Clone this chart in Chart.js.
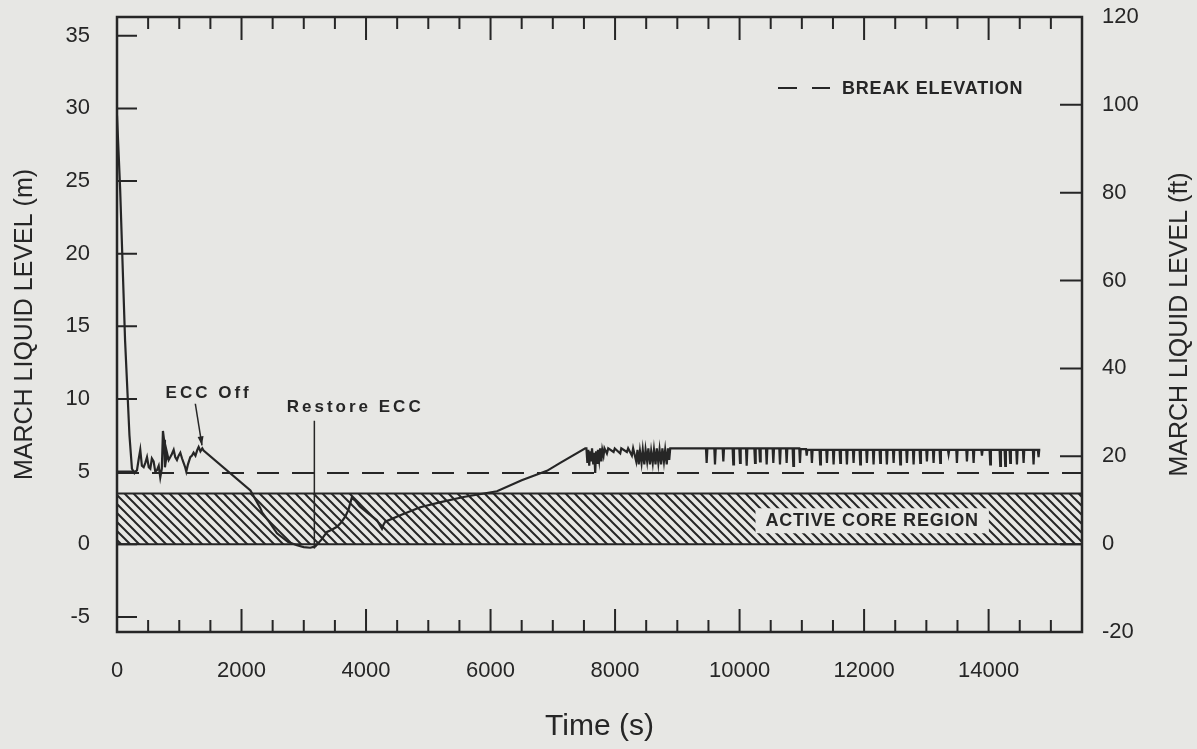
<!DOCTYPE html>
<html>
<head>
<meta charset="utf-8">
<title>MARCH liquid level</title>
<style>
  html, body { margin: 0; padding: 0; background: #e7e7e4; }
  #wrap { width: 1197px; height: 749px; }
</style>
<script src="https://cdn.jsdelivr.net/npm/chart.js@4.4.0/dist/chart.umd.min.js"></script>
</head>
<body>
<div id="wrap"><canvas id="levelChart"></canvas></div>
<script>
// axis ranges and tick values
const X_MAX = 15500;
const xLabelTicks = [0, 2000, 4000, 6000, 8000, 10000, 12000, 14000];
const xMinorStep = 500;
const yMetreTicks = [-5, 0, 5, 10, 15, 20, 25, 30, 35];
const yFeetTicks = [-20, 0, 20, 40, 60, 80, 100, 120];

// reference levels (m)
const breakElevation = 4.9;
const coreRegion = [0, 3.5];

// liquid level trace, [time s, level m]
const earlyLevel = [
  [0, 29.5], [50, 24.5], [130, 14.0], [200, 7.5], [240, 5.2], [280, 4.9], [321, 5.1],
  [350, 5.9], [374, 6.5], [400, 5.4], [428, 5.3], [455, 5.6], [482, 6.0], [510, 5.3],
  [535, 5.2], [560, 5.9], [588, 5.7], [615, 5.0], [642, 5.1], [670, 5.4], [695, 4.6],
  [720, 5.2], [738, 7.8], [755, 7.2], [770, 5.3], [790, 5.9], [803, 6.3], [830, 5.8],
  [856, 6.0], [880, 6.2], [910, 6.5], [935, 6.0], [963, 5.8], [990, 6.1], [1017, 6.3],
  [1045, 5.9], [1070, 5.6], [1095, 5.3], [1113, 5.0], [1140, 5.5], [1177, 6.0], [1205, 6.1],
  [1230, 6.3], [1260, 6.1], [1290, 6.5], [1311, 6.7], [1340, 6.4], [1370, 6.6], [1391, 6.45]
];

const uncoveryLevel = [
  [2143, 3.7], [2300, 2.5], [2330, 2.2], [2450, 1.5], [2570, 0.75], [2750, 0.15],
  [2891, -0.07], [3000, -0.2], [3104, -0.24], [3185, -0.15], [3280, 0.3], [3373, 0.85],
  [3450, 1.0], [3533, 1.2], [3600, 1.5], [3666, 1.9], [3720, 2.4], [3774, 3.25],
  [3800, 3.1], [3827, 3.0], [3900, 2.6], [4015, 2.2], [4100, 1.9], [4176, 1.65],
  [4256, 1.07], [4280, 1.35], [4309, 1.55], [4550, 2.0], [4871, 2.55], [5200, 2.9],
  [5566, 3.25], [6103, 3.65], [6500, 4.4], [6906, 5.05], [7119, 5.6], [7521, 6.6]
];

const plateauLevel = [
  [7540, 6.6], [7555, 5.6], [7570, 6.5], [7585, 5.4], [7600, 6.4], [7615, 5.7], [7630, 6.6],
  [7650, 5.5], [7665, 6.3], [7681, 4.9], [7695, 6.4], [7710, 5.6], [7725, 6.5], [7745, 5.8],
  [7760, 6.6], [7780, 5.7], [7795, 6.5], [7815, 6.1], [7830, 6.6],
  [7869, 6.25], [7890, 6.6], [7976, 6.35], [7995, 6.6], [8083, 6.25], [8100, 6.6],
  [8190, 6.35], [8210, 6.6], [8270, 6.1], [8290, 6.6],
  [8340, 5.7], [8360, 6.5], [8380, 5.5], [8400, 6.4], [8425, 5.6], [8445, 6.5], [8470, 5.5],
  [8490, 6.5], [8515, 5.7], [8535, 6.6], [8560, 5.5], [8580, 6.4], [8605, 5.6], [8625, 6.5],
  [8650, 5.5], [8670, 6.6], [8695, 5.6], [8715, 6.5], [8740, 5.5], [8760, 6.6], [8785, 5.7],
  [8805, 6.5], [8830, 5.5], [8850, 6.6], [8870, 5.8], [8886, 6.6],
  [9460, 6.6], [9471, 5.6], [9483, 6.6],
  [9594, 6.6], [9605, 5.5], [9617, 6.6],
  [9728, 6.6], [9739, 5.7], [9750, 6.6],
  [9888, 6.6], [9899, 5.5], [9910, 6.6],
  [9996, 6.6], [10007, 5.6], [10018, 6.6],
  [10103, 6.6], [10114, 5.4], [10125, 6.6],
  [10237, 6.6], [10248, 5.6], [10259, 6.6],
  [10317, 6.6], [10328, 5.7], [10339, 6.6],
  [10424, 6.6], [10435, 5.5], [10446, 6.6],
  [10531, 6.6], [10542, 5.6], [10553, 6.6],
  [10638, 6.6], [10649, 5.5], [10660, 6.6],
  [10745, 6.6], [10756, 5.6], [10767, 6.6],
  [10852, 6.6], [10863, 5.4], [10874, 6.6],
  [10959, 6.6], [10970, 5.6], [10981, 6.55],
  [11067, 6.55], [11078, 6.1], [11089, 6.5],
  [11151, 6.5], [11162, 5.6], [11173, 6.5],
  [11284, 6.5], [11295, 5.5], [11306, 6.5],
  [11392, 6.5], [11403, 5.6], [11414, 6.5],
  [11499, 6.5], [11510, 5.5], [11521, 6.5],
  [11606, 6.5], [11617, 5.6], [11628, 6.5],
  [11713, 6.5], [11724, 5.5], [11735, 6.5],
  [11820, 6.5], [11831, 5.6], [11842, 6.5],
  [11927, 6.5], [11938, 5.5], [11949, 6.5],
  [12034, 6.5], [12045, 5.6], [12056, 6.5],
  [12141, 6.5], [12152, 5.5], [12163, 6.5],
  [12248, 6.5], [12259, 5.6], [12270, 6.5],
  [12355, 6.5], [12366, 5.5], [12377, 6.5],
  [12463, 6.5], [12474, 5.6], [12485, 6.5],
  [12570, 6.5], [12581, 5.5], [12592, 6.5],
  [12677, 6.5], [12688, 5.6], [12699, 6.5],
  [12784, 6.5], [12795, 5.5], [12806, 6.5],
  [12891, 6.5], [12902, 5.6], [12913, 6.5],
  [12998, 6.5], [13009, 5.7], [13020, 6.5],
  [13105, 6.5], [13116, 5.6], [13127, 6.5],
  [13212, 6.5], [13223, 5.6], [13234, 6.5],
  [13346, 6.5], [13357, 6.2], [13368, 6.5],
  [13480, 6.5], [13491, 5.6], [13502, 6.5],
  [13641, 6.5], [13652, 5.7], [13663, 6.5],
  [13748, 6.5], [13759, 5.6], [13770, 6.5],
  [13882, 6.5], [13893, 6.1], [13904, 6.5],
  [14015, 6.5], [14026, 5.5], [14037, 6.5],
  [14176, 6.5], [14187, 5.4], [14198, 6.5],
  [14256, 6.5], [14267, 5.4], [14278, 6.5],
  [14336, 6.5], [14347, 5.6], [14358, 6.5],
  [14444, 6.5], [14455, 5.5], [14466, 6.5],
  [14551, 6.5], [14562, 5.6], [14573, 6.5],
  [14711, 6.5], [14722, 5.5], [14733, 6.5],
  [14791, 6.5], [14802, 6.0], [14813, 6.5],
  [14830, 6.5]
];

const ink = '#262626';
const paper = '#e7e7e4';
const sans = "'Liberation Sans', Arial, Helvetica, sans-serif";

// diagonal hatching for the active core band
function hatchPattern() {
  const c = document.createElement('canvas');
  c.width = 9; c.height = 9;
  const g = c.getContext('2d');
  g.strokeStyle = ink;
  g.lineWidth = 2;
  g.beginPath();
  for (const k of [-9, 0, 9]) {
    g.moveTo(k - 1, -1);
    g.lineTo(k + 10, 10);
  }
  g.stroke();
  return g.createPattern(c, 'repeat');
}

const trace = earlyLevel.concat(uncoveryLevel, plateauLevel).map(p => ({ x: p[0], y: p[1] }));
const span = [0, X_MAX];

const paperFill = {
  id: 'paperFill',
  beforeDraw(chart) {
    const ctx = chart.ctx;
    ctx.save();
    ctx.fillStyle = paper;
    ctx.fillRect(0, 0, chart.width, chart.height);
    ctx.restore();
  }
};

// text notes, legend and band label
const notes = {
  id: 'notes',
  afterDatasetsDraw(chart) {
    const { ctx, chartArea: a, scales: { x, y } } = chart;
    ctx.save();
    ctx.fillStyle = ink;
    ctx.strokeStyle = ink;
    ctx.textBaseline = 'middle';

    // ECC Off with arrow
    ctx.font = 'bold 17px ' + sans;
    ctx.letterSpacing = '3px';
    ctx.textAlign = 'center';
    ctx.fillText('ECC Off', x.getPixelForValue(1472), y.getPixelForValue(10.38));
    const x0 = x.getPixelForValue(1258), y0 = y.getPixelForValue(9.67);
    const x1 = x.getPixelForValue(1365), y1 = y.getPixelForValue(6.8);
    ctx.lineWidth = 1.5;
    ctx.beginPath(); ctx.moveTo(x0, y0); ctx.lineTo(x1, y1); ctx.stroke();
    const ang = Math.atan2(y1 - y0, x1 - x0);
    ctx.beginPath();
    ctx.moveTo(x1, y1);
    ctx.lineTo(x1 - 9 * Math.cos(ang) + 3 * Math.sin(ang), y1 - 9 * Math.sin(ang) - 3 * Math.cos(ang));
    ctx.lineTo(x1 - 9 * Math.cos(ang) - 3 * Math.sin(ang), y1 - 9 * Math.sin(ang) + 3 * Math.cos(ang));
    ctx.closePath(); ctx.fill();

    // Restore ECC with marker line
    ctx.fillText('Restore ECC', x.getPixelForValue(3826), y.getPixelForValue(9.4));
    const xr = x.getPixelForValue(3170);
    ctx.beginPath();
    ctx.moveTo(xr, y.getPixelForValue(8.5));
    ctx.lineTo(xr, y.getPixelForValue(-0.3));
    ctx.stroke();

    // core band label on a plain patch
    ctx.font = 'bold 18px ' + sans;
    ctx.letterSpacing = '0.8px';
    const cx = x.getPixelForValue(12130), cy = y.getPixelForValue(1.65);
    const w = ctx.measureText('ACTIVE CORE REGION').width;
    ctx.fillStyle = paper;
    ctx.fillRect(cx - w / 2 - 10, cy - 12, w + 20, 25);
    ctx.fillStyle = ink;
    ctx.fillText('ACTIVE CORE REGION', cx, cy + 1);

    // legend entry
    const ly = a.top + 71;
    ctx.lineWidth = 2;
    ctx.beginPath();
    ctx.moveTo(a.right - 304, ly); ctx.lineTo(a.right - 285, ly);
    ctx.moveTo(a.right - 270, ly); ctx.lineTo(a.right - 252, ly);
    ctx.stroke();
    ctx.textAlign = 'left';
    ctx.fillText('BREAK ELEVATION', a.right - 240, ly + 1);
    ctx.restore();
  }
};

// frame, inward tick marks and right axis title
const frame = {
  id: 'frame',
  afterDraw(chart) {
    const { ctx, chartArea: a, scales } = chart;
    ctx.save();
    ctx.strokeStyle = ink;
    ctx.lineWidth = 2;
    ctx.beginPath();
    scales.x.ticks.forEach(t => {
      const px = scales.x.getPixelForValue(t.value);
      const len = t.value % 2000 === 0 ? 23 : 12;
      ctx.moveTo(px, a.bottom); ctx.lineTo(px, a.bottom - len);
      ctx.moveTo(px, a.top); ctx.lineTo(px, a.top + len);
    });
    scales.y.ticks.forEach(t => {
      const py = scales.y.getPixelForValue(t.value);
      ctx.moveTo(a.left, py); ctx.lineTo(a.left + 20, py);
    });
    scales.y2.ticks.forEach(t => {
      const py = scales.y2.getPixelForValue(t.value);
      ctx.moveTo(a.right, py); ctx.lineTo(a.right - 22, py);
    });
    ctx.stroke();
    ctx.lineWidth = 2.5;
    ctx.strokeRect(a.left, a.top, a.right - a.left, a.bottom - a.top);

    ctx.translate(a.right + 98, (a.top + a.bottom) / 2);
    ctx.rotate(-Math.PI / 2);
    ctx.fillStyle = ink;
    ctx.font = '25px ' + sans;
    ctx.textAlign = 'center';
    ctx.textBaseline = 'middle';
    ctx.fillText('MARCH LIQUID LEVEL (ft)', 0, 0);
    ctx.restore();
  }
};

const tickFont = { family: sans, size: 22 };

// keep label overhang from pushing the plot area inwards
function fixVertical(width) {
  return s => { s.width = width; s.paddingTop = 0; s.paddingBottom = 0; };
}

new Chart(document.getElementById('levelChart'), {
  type: 'line',
  data: {
    datasets: [
      { label: 'MARCH', data: trace, borderColor: ink, borderWidth: 2.2, pointRadius: 0, tension: 0, fill: false },
      { label: 'BREAK ELEVATION', data: span.map(t => ({ x: t, y: breakElevation })), borderColor: ink, borderWidth: 2, borderDash: [22, 13], pointRadius: 0, fill: false },
      { label: 'core top', data: span.map(t => ({ x: t, y: coreRegion[1] })), borderColor: ink, borderWidth: 2, pointRadius: 0, fill: '+1', backgroundColor: hatchPattern() },
      { label: 'core bottom', data: span.map(t => ({ x: t, y: coreRegion[0] })), borderColor: ink, borderWidth: 2, pointRadius: 0, fill: false }
    ]
  },
  options: {
    responsive: true,
    maintainAspectRatio: false,
    animation: false,
    devicePixelRatio: 1,
    layout: { padding: { top: 17, left: 0, right: 0, bottom: 0 } },
    plugins: { legend: { display: false }, tooltip: { enabled: false } },
    scales: {
      x: {
        type: 'linear', position: 'bottom', min: 0, max: X_MAX,
        grid: { display: false, drawTicks: false }, border: { display: false },
        afterBuildTicks: s => {
          const t = [];
          for (let v = 0; v < X_MAX; v += xMinorStep) t.push({ value: v });
          s.ticks = t;
        },
        afterFit: s => { s.height = 117; s.paddingLeft = 0; s.paddingRight = 0; },
        ticks: {
          autoSkip: false, maxRotation: 0, padding: 26, color: ink, font: tickFont,
          callback: v => xLabelTicks.includes(v) ? String(v) : ''
        },
        title: { display: true, text: 'Time (s)', color: ink, font: { family: sans, size: 30 }, padding: { top: 0, bottom: 4 } }
      },
      y: {
        type: 'linear', position: 'left', min: -6.04, max: 36.29,
        grid: { display: false, drawTicks: false }, border: { display: false },
        afterBuildTicks: s => { s.ticks = yMetreTicks.map(v => ({ value: v })); },
        afterFit: fixVertical(117),
        ticks: { padding: 27, color: ink, font: tickFont },
        title: { display: true, text: 'MARCH LIQUID LEVEL (m)', color: ink, font: { family: sans, size: 25 }, padding: { top: 10, bottom: 0 } }
      },
      y2: {
        type: 'linear', position: 'right', min: -20, max: 120,
        grid: { display: false, drawTicks: false }, border: { display: false },
        afterBuildTicks: s => { s.ticks = yFeetTicks.map(v => ({ value: v })); },
        afterFit: fixVertical(115),
        ticks: { padding: 20, color: ink, font: tickFont }
      }
    }
  },
  plugins: [paperFill, notes, frame]
});
</script>
</body>
</html>
